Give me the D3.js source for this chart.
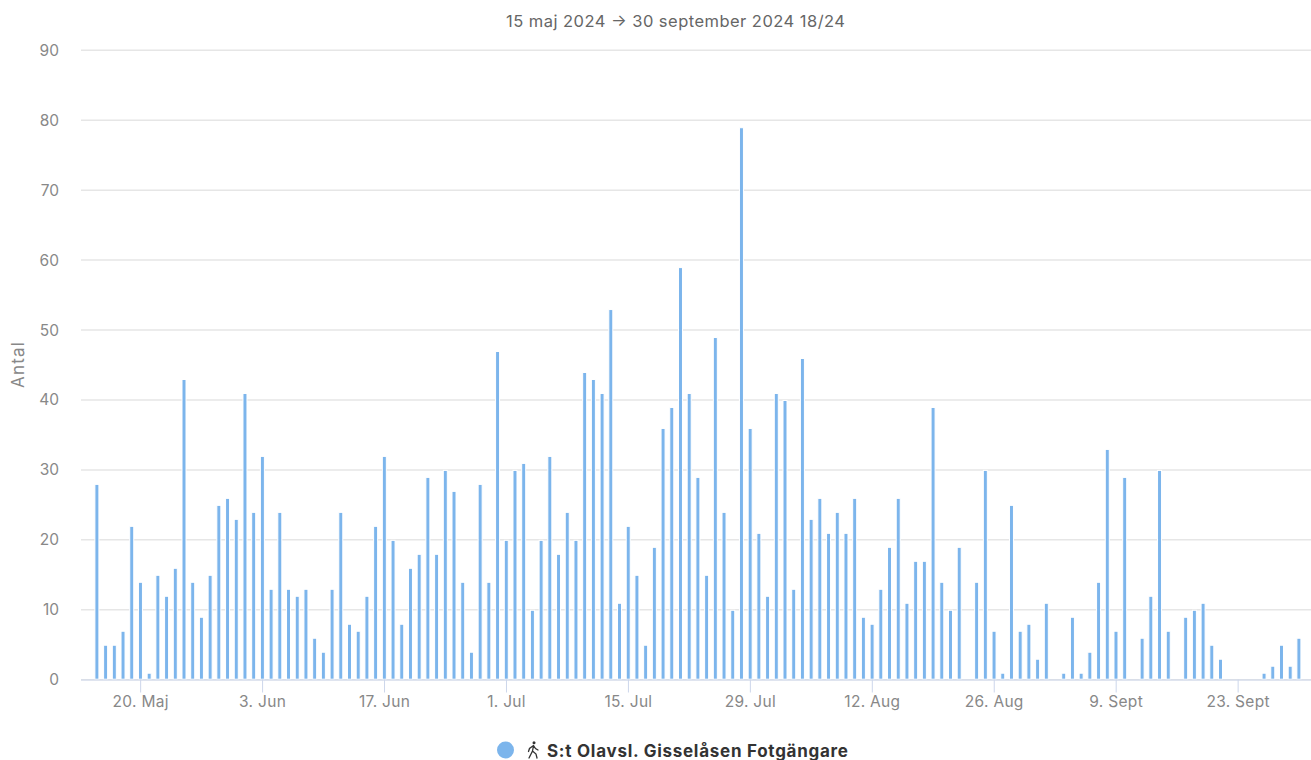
<!DOCTYPE html>
<html><head><meta charset="utf-8">
<style>html,body{margin:0;padding:0;background:#fff;overflow:hidden}svg{display:block}text{font-family:Inter,"Open Sans",sans-serif}</style>
<script src="https://cdn.jsdelivr.net/npm/d3@7"></script>
</head><body><svg id="c" width="1311" height="760"></svg>
<script>
const titleText = "15 maj 2024 → 30 september 2024 18/24";
const yLabel = "Antal";
const seriesName = "S:t Olavsl. Gisselåsen Fotgängare";
const startDate = "2024-05-15";
const values = [28,5,5,7,22,14,1,15,12,16,43,14,9,15,25,26,23,41,24,32,13,24,13,12,13,6,4,13,24,8,7,12,22,32,20,8,16,18,29,18,30,27,14,4,28,14,47,20,30,31,10,20,32,18,24,20,44,43,41,53,11,22,15,5,19,36,39,59,41,29,15,49,24,10,79,36,21,12,41,40,13,46,23,26,21,24,21,26,9,8,13,19,26,11,17,17,39,14,10,19,0,14,30,7,1,25,7,8,3,11,0,1,9,1,4,14,33,7,29,0,6,12,30,7,0,9,10,11,5,3,0,0,0,0,1,2,5,2,6];
const yTicks = [0,10,20,30,40,50,60,70,80,90];
const xTickDates = ["2024-05-20","2024-06-03","2024-06-17","2024-07-01","2024-07-15","2024-07-29","2024-08-12","2024-08-26","2024-09-09","2024-09-23"];
const xTickLabels = ["20. Maj","3. Jun","17. Jun","1. Jul","15. Jul","29. Jul","12. Aug","26. Aug","9. Sept","23. Sept"];

const parse = d3.utcParse("%Y-%m-%d");
const t0 = parse(startDate);
const dates = values.map((_, i) => d3.utcDay.offset(t0, i));
const svg = d3.select("#c");
const x = d3.scaleUtc().domain([t0, dates[dates.length-1]]).range([96.6, 1298.6]);
const y = d3.scaleLinear().domain([0, 90]).range([679.2, 49.8]);

// gridlines + y labels
const gy = svg.append("g")
  .call(d3.axisLeft(y).tickValues(yTicks).tickSize(0).tickPadding(0));
gy.select(".domain").remove();
gy.selectAll(".tick text").attr("x",59).attr("dy","0").attr("dominant-baseline","central")
  .style("font-size","15.5px").style("fill","#888").style("text-anchor","end");
gy.selectAll(".tick line").attr("x1",81).attr("x2",1311).attr("stroke","#e6e6e6").attr("stroke-width",1.5);

// bars
svg.append("g").selectAll("rect").data(values).join("rect")
  .attr("x",(d,i)=>x(dates[i])-1.7).attr("width",4)
  .attr("y",d=>y(d)+1).attr("height",d=>Math.max(0,y(0)-y(d)-1))
  .attr("fill","#7cb5ec").attr("stroke","#fff").attr("stroke-width",1)
  .style("display",d=>d>0?null:"none");

// x axis
const tickD = xTickDates.map(parse);
const gx = svg.append("g").attr("transform",`translate(0,${y(0)+0.3})`)
  .call(d3.axisBottom(x).tickValues(tickD).tickSize(13).tickPadding(3)
    .tickFormat((d,i)=>xTickLabels[i]));
gx.select(".domain").attr("d","M81,0.5H1311").attr("stroke","#ccd6eb");
gx.selectAll(".tick line").attr("stroke","#ccd6eb");
gx.selectAll(".tick text").style("font-size","15.5px").style("letter-spacing","0.3px").style("fill","#888");

// title
svg.append("text").attr("x",675.5).attr("y",27).attr("text-anchor","middle")
  .attr("textLength",339).attr("lengthAdjust","spacing")
  .style("font-size","16.5px").style("fill","#666").text(titleText);
// y title
svg.append("text").attr("transform","translate(23.5,365) rotate(-90)").attr("text-anchor","middle")
  .attr("textLength",46).attr("lengthAdjust","spacing")
  .style("font-size","17px").style("fill","#888").text(yLabel);
// legend
svg.append("circle").attr("cx",505.5).attr("cy",750).attr("r",8.5).attr("fill","#7cb5ec");
const walker = svg.append("g").attr("transform","translate(533,750)")
  .attr("fill","none").attr("stroke","#333").attr("stroke-width",1.3).attr("stroke-linecap","round");
walker.append("circle").attr("cx",1).attr("cy",-7.2).attr("r",1.5).attr("fill","#333").attr("stroke","none");
walker.append("path").attr("d","M0.5,-4.5 L-0.5,1 L-4,8 M-0.5,1 L3,4 L4,8 M0.5,-4.5 L-3.5,-1.5 L-4.5,1.5 M0.5,-4.5 L2.5,-1.5 L5,0");
svg.append("text").attr("x",547).attr("y",756.5)
  .attr("textLength",301).attr("lengthAdjust","spacing")
  .style("font-size","17px").style("font-weight","700").style("fill","#333").text(seriesName);
</script></body></html>
